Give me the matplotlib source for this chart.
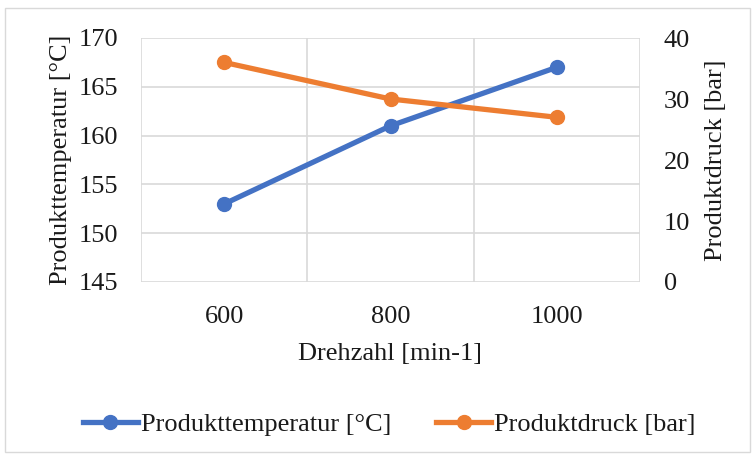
import numpy as np
import matplotlib.pyplot as plt
from matplotlib.patches import Rectangle

plt.rcParams['font.family'] = ['Liberation Serif', 'DejaVu Serif']

# data
drehzahl = ["600", "800", "1000"]
temperatur = [153, 161, 167]   # °C
druck = [36, 30, 27]           # bar

blue = "#4472C4"
orange = "#ED7D31"
grid_c = "#D9D9D9"
txt = "#1a1a1a"
fs = 19

fig = plt.figure(figsize=(7.55, 4.57), dpi=100)
fig.patches.append(Rectangle((5/755, 5/457), 745/755, 444/457, transform=fig.transFigure,
                             fill=False, edgecolor=grid_c, lw=1))

ax = fig.add_axes([141/755, 1 - 282/457, 499/755, 244/457])
x = np.arange(len(drehzahl))

ax.plot(x, temperatur, color=blue, lw=3.8, marker="o", ms=10, label="Produkttemperatur [°C]", zorder=3)
ax.set_ylim(145, 170)
ax.set_yticks(np.arange(145, 171, 5))
ax.set_xlim(-0.5, 2.5)
ax.set_xticks(x)
ax.set_xticklabels(drehzahl)
ax.set_xticks([-0.5, 0.5, 1.5, 2.5], minor=True)
ax.grid(True, axis="y", color=grid_c, lw=1.2)
ax.grid(True, axis="x", which="minor", color=grid_c, lw=1.2)
ax.tick_params(which="both", length=0, labelsize=fs, colors=txt)
ax.tick_params(axis="y", pad=16.5)
ax.tick_params(axis="x", pad=17)
for s in ax.spines.values():
    s.set_visible(False)
ax.set_ylabel("Produkttemperatur [°C]", fontsize=fs, color=txt, labelpad=5)
ax.set_xlabel("Drehzahl [min-1]", fontsize=fs, color=txt, labelpad=11)

ax2 = ax.twinx()
ax2.plot(x, druck, color=orange, lw=3.8, marker="o", ms=10, label="Produktdruck [bar]", zorder=3)
ax2.set_ylim(0, 40)
ax2.set_yticks(np.arange(0, 41, 10))
ax2.tick_params(length=0, labelsize=fs, colors=txt, pad=17)
for s in ax2.spines.values():
    s.set_visible(False)
ax2.set_ylabel("Produktdruck [bar]", fontsize=fs, color=txt, labelpad=11)

h1, l1 = ax.get_legend_handles_labels()
h2, l2 = ax2.get_legend_handles_labels()
fig.legend(h1 + h2, l1 + l2, loc="center", bbox_to_anchor=(389/755, 1 - 424/457), ncol=2,
           frameon=False, fontsize=fs, handlelength=2.1, handletextpad=0.1, columnspacing=1.7,
           labelcolor=txt)

fig.savefig("out.png", dpi=100)
